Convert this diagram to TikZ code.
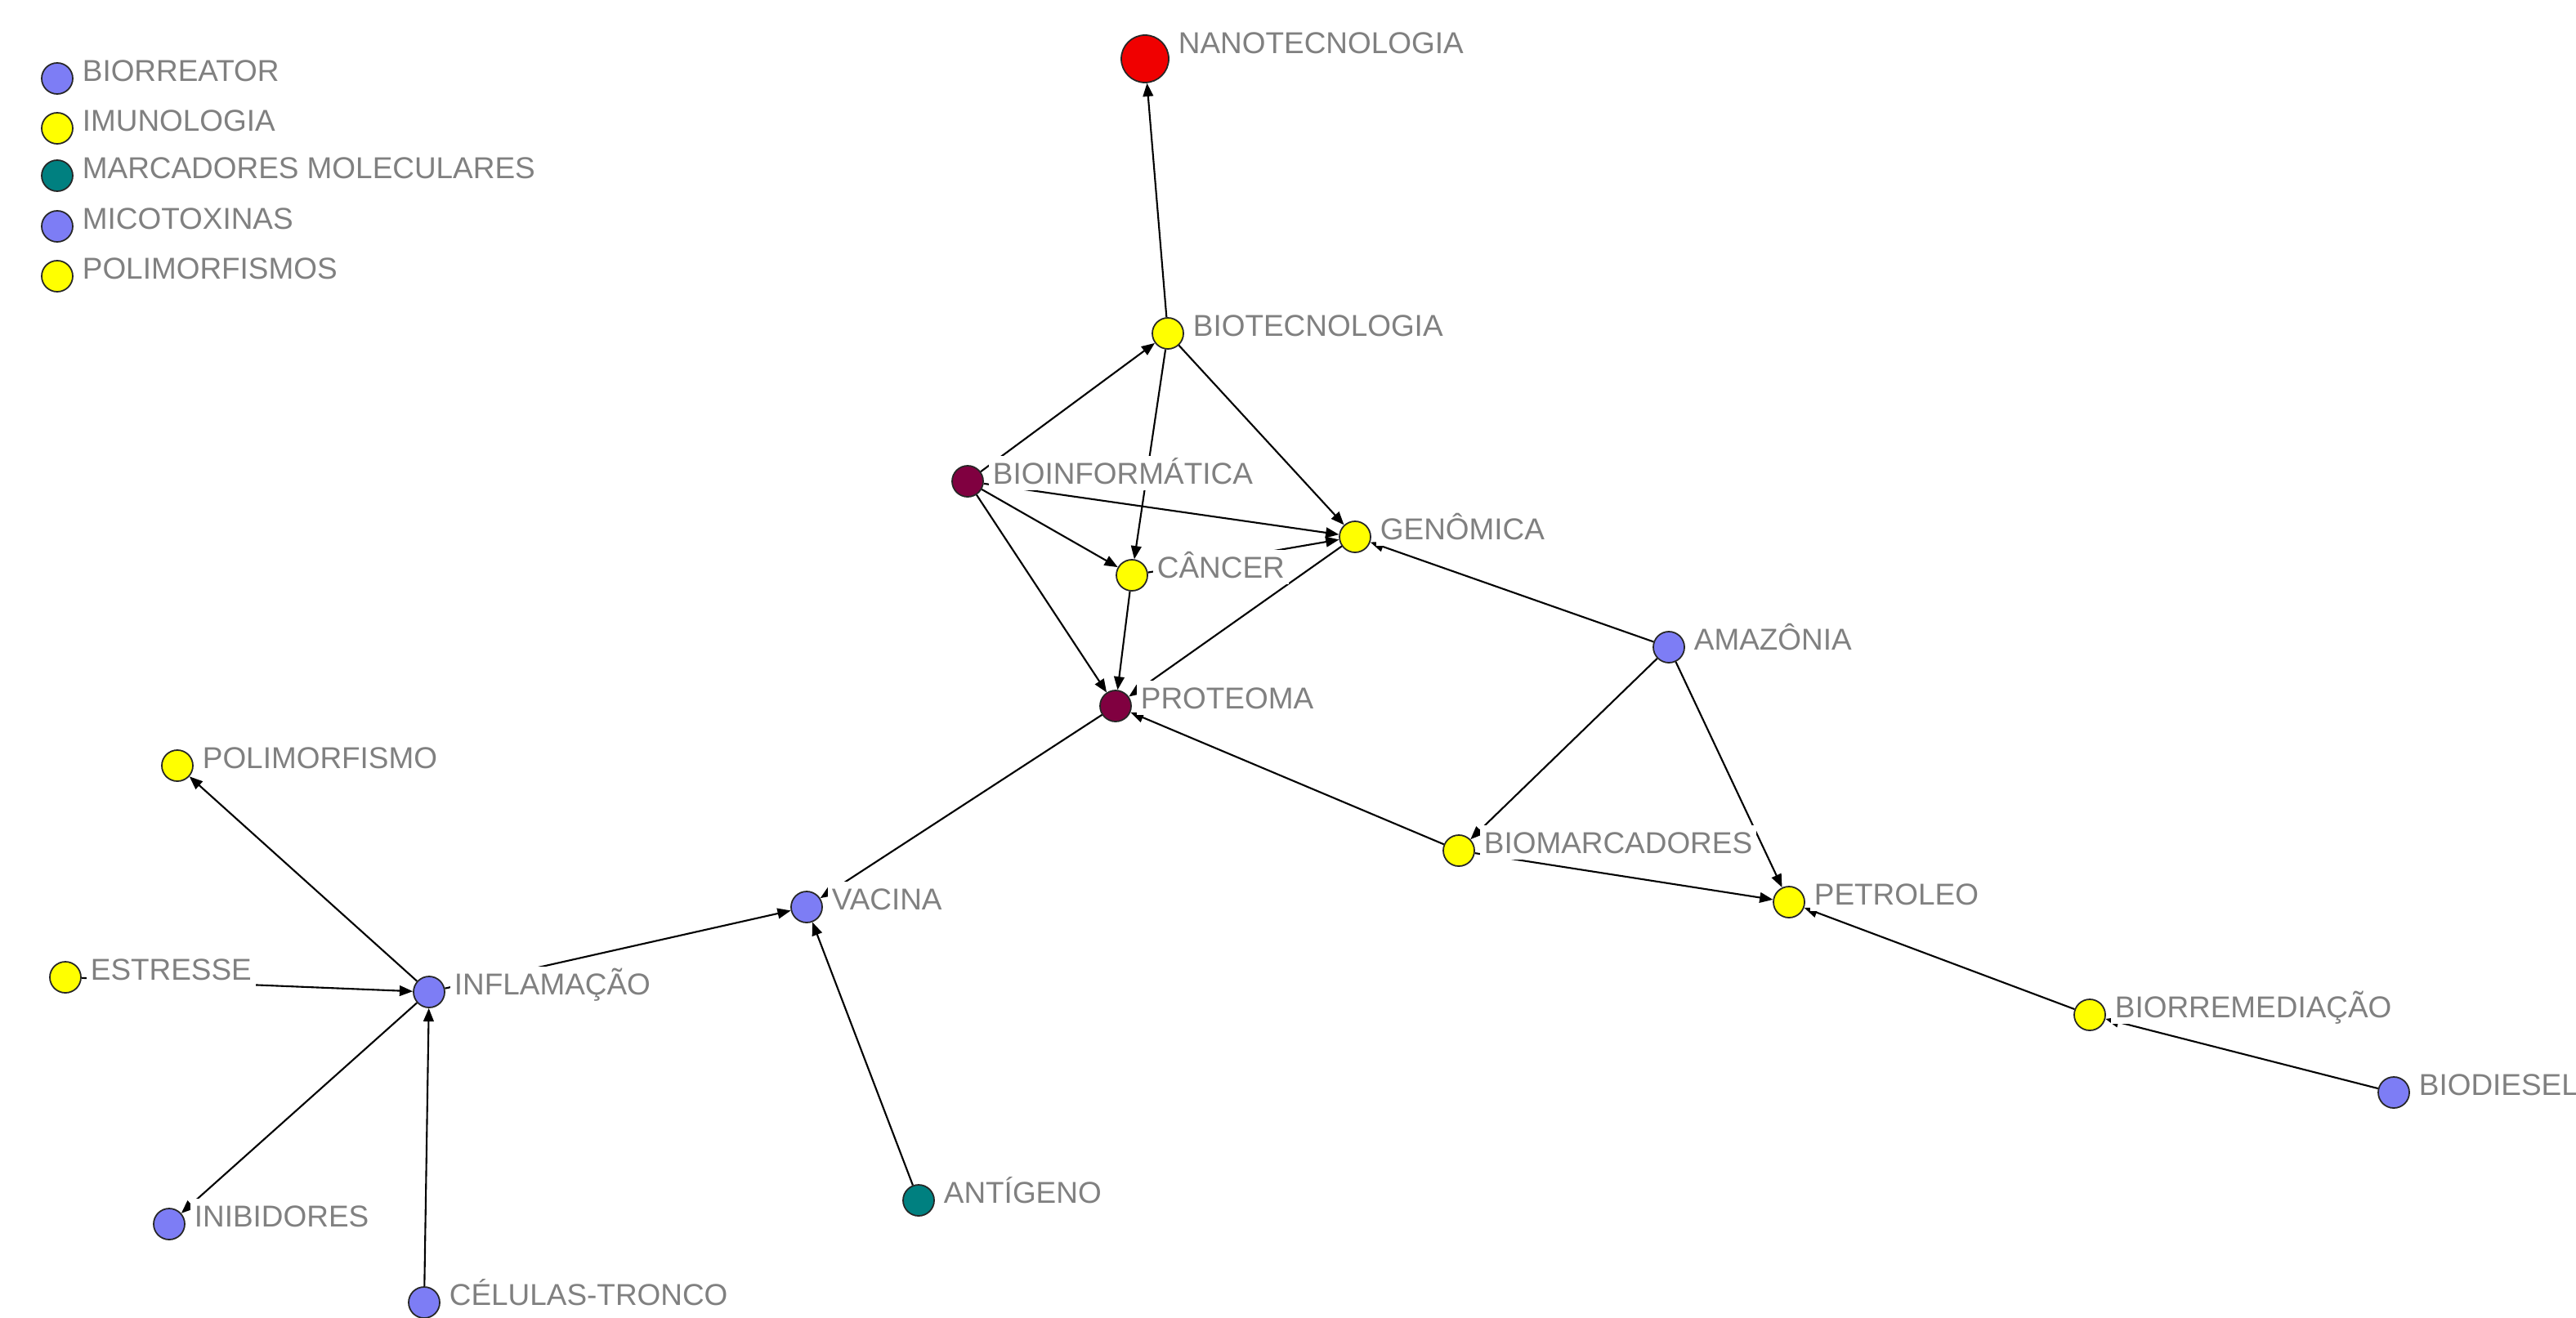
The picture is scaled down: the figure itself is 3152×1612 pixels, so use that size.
\documentclass[tikz,border=0pt]{standalone}
\usepackage{fontspec}
\setmainfont{Liberation Sans}
\usetikzlibrary{positioning,arrows.meta}

\definecolor{lav}{RGB}{125,125,245}
\definecolor{yel}{RGB}{255,255,0}
\definecolor{tea}{RGB}{0,128,128}
\definecolor{mar}{RGB}{128,0,64}
\definecolor{nred}{RGB}{240,0,0}
\definecolor{lblgray}{RGB}{128,128,128}

\begin{document}
\begin{tikzpicture}[x=0.01cm, y=-0.01cm, node distance=0.05cm,
    vert/.style={circle, draw=black!85, line width=0.5pt, minimum size=0.38cm, inner sep=0pt},
    lv/.style={vert, fill=lav},
    yl/.style={vert, fill=yel},
    tl/.style={vert, fill=tea},
    mr/.style={vert, fill=mar},
    lbl/.style={fill=white, text=lblgray, inner xsep=1.5pt, inner ysep=1pt, text height=0.9em, text depth=0.12em,
                font=\fontsize{10.5}{12}\selectfont, yshift=0.10cm},
    arr/.style={-{Triangle[length=4.6pt,width=3.6pt]}, line width=0.6pt}]
      \useasboundingbox (0,0) rectangle (3152,1612);

      % legenda
      \node (LBIO) [lv] at (70,96) {};
      \node (LIMU) [yl] at (70,157) {};
      \node (LMAR) [tl] at (70,215) {};
      \node (LMIC) [lv] at (70,277) {};
      \node (LPOL) [yl] at (70,338) {};

      % rede
      \node (NANO) [vert, fill=nred, minimum size=0.58cm] at (1401,72) {};
      \node (BTEC) [yl] at (1429,408) {};
      \node (BINF) [mr] at (1184,589) {};
      \node (GEN) [yl] at (1658,657) {};
      \node (CAN) [yl] at (1385,704) {};
      \node (PROT) [mr] at (1365,864) {};
      \node (AMZ) [lv] at (2042,792) {};
      \node (BMAR) [yl] at (1785,1041) {};
      \node (PET) [yl] at (2189,1104) {};
      \node (BREM) [yl] at (2557,1242) {};
      \node (BDSL) [lv] at (2929,1337) {};
      \node (VAC) [lv] at (987,1110) {};
      \node (INF) [lv] at (525,1214) {};
      \node (POL) [yl] at (217,937) {};
      \node (EST) [yl] at (80,1196) {};
      \node (INI) [lv] at (207,1498) {};
      \node (CEL) [lv] at (519,1594) {};
      \node (ANT) [tl] at (1124,1469) {};

      \draw[arr] (BTEC) to (NANO);
      \draw[arr] (BINF) to (BTEC);
      \draw[arr] (BTEC) to (CAN);
      \draw[arr] (BTEC) to (GEN);
      \draw[arr] (BINF) to (GEN);
      \draw[arr] (BINF) to (CAN);
      \draw[arr] (BINF) to (PROT);
      \draw[arr] (CAN) to (GEN);
      \draw[arr] (CAN) to (PROT);
      \draw[arr] (GEN) to (PROT);
      \draw[arr] (AMZ) to (GEN);
      \draw[arr] (AMZ) to (BMAR);
      \draw[arr] (AMZ) to (PET);
      \draw[arr] (BMAR) to (PET);
      \draw[arr] (BMAR) to (PROT);
      \draw[arr] (BREM) to (PET);
      \draw[arr] (BDSL) to (BREM);
      \draw[arr] (PROT) to (VAC);
      \draw[arr] (INF) to (VAC);
      \draw[arr] (ANT) to (VAC);
      \draw[arr] (INF) to (POL);
      \draw[arr] (EST) to (INF);
      \draw[arr] (INF) to (INI);
      \draw[arr] (CEL) to (INF);

      % rotulos
      \node [lbl, right=of LBIO] {BIORREATOR};
      \node [lbl, right=of LIMU] {IMUNOLOGIA};
      \node [lbl, right=of LMAR] {MARCADORES MOLECULARES};
      \node [lbl, right=of LMIC] {MICOTOXINAS};
      \node [lbl, right=of LPOL] {POLIMORFISMOS};
      \node [lbl, right=of NANO, yshift=0.1cm] {NANOTECNOLOGIA};
      \node [lbl, right=of BTEC] {BIOTECNOLOGIA};
      \node [lbl, right=of BINF] {BIOINFORMÁTICA};
      \node [lbl, right=of GEN] {GENÔMICA};
      \node [lbl, right=of CAN] {CÂNCER};
      \node [lbl, right=of PROT] {PROTEOMA};
      \node [lbl, right=of AMZ] {AMAZÔNIA};
      \node [lbl, right=of BMAR] {BIOMARCADORES};
      \node [lbl, right=of PET] {PETROLEO};
      \node [lbl, right=of BREM] {BIORREMEDIAÇÃO};
      \node [lbl, right=of BDSL] {BIODIESEL};
      \node [lbl, right=of VAC] {VACINA};
      \node [lbl, right=of INF] {INFLAMAÇÃO};
      \node [lbl, right=of POL] {POLIMORFISMO};
      \node [lbl, right=of EST] {ESTRESSE};
      \node [lbl, right=of INI] {INIBIDORES};
      \node [lbl, right=of CEL] {CÉLULAS-TRONCO};
      \node [lbl, right=of ANT] {ANTÍGENO};
\end{tikzpicture}
\end{document}
